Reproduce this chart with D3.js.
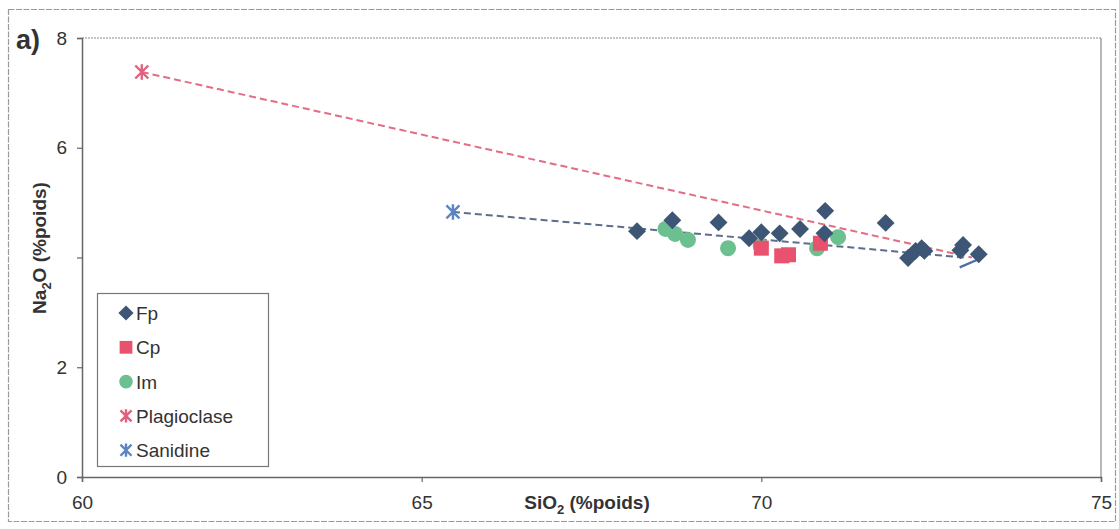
<!DOCTYPE html>
<html>
<head>
<meta charset="utf-8">
<script src="https://cdn.jsdelivr.net/npm/d3@7"></script>
<style>
  html, body { margin: 0; padding: 0; background: #fff; }
  svg { display: block; }
  text { font-family: "Liberation Sans", Arial, sans-serif; fill: #333; }
</style>
</head>
<body>
<svg id="chart" width="1119" height="529"></svg>
<script>
// Na2O vs SiO2 (% poids) for the different groups
const fpSiO2  = [68.17, 68.69, 69.37, 69.82, 70.00, 70.27, 70.57, 70.94, 70.93, 71.83, 72.16, 72.27, 72.36, 72.40, 72.93, 72.97, 73.20];
const fpNa2O  = [4.48, 4.68, 4.64, 4.35, 4.46, 4.44, 4.52, 4.85, 4.44, 4.63, 3.99, 4.12, 4.17, 4.12, 4.13, 4.23, 4.06];
const cpSiO2  = [70.00, 70.30, 70.40, 70.87];
const cpNa2O  = [4.17, 4.03, 4.05, 4.26];
const imSiO2  = [68.59, 68.73, 68.92, 69.51, 69.99, 70.82, 71.13];
const imNa2O  = [4.52, 4.43, 4.32, 4.17, 4.21, 4.17, 4.37];
const plagSiO2 = [60.88];
const plagNa2O = [7.38];
const sanSiO2  = [65.46];
const sanNa2O  = [4.83];
// mixing lines (feldspar -> evolved end-member)
const plagLineSiO2 = [60.88, 73.10];
const plagLineNa2O = [7.38, 4.00];
const sanLineSiO2  = [65.46, 72.98];
const sanLineNa2O  = [4.83, 4.00];
const sanTailSiO2  = [72.92, 73.18];
const sanTailNa2O  = [3.82, 3.96];

const xTicks = [60, 65, 70, 75];
const xTickLabels = ["60", "65", "70", "75"];
const yTicks = [0, 2, 4, 6, 8];
const yTickLabels = ["0", "2", "", "6", "8"];
const legendNames = ["Fp", "Cp", "Im", "Plagioclase", "Sanidine"];

const colors = {
  Fp: "#3e5675", Cp: "#e9526f", Im: "#6cbf8f",
  Plagioclase: "#e0607f", Sanidine: "#5b86c2",
  plagLine: "#e26d85", sanLine: "#5c6e8c", sanTail: "#4f6da6"
};

const svg = d3.select("#chart");
const x = d3.scaleLinear().domain([60, 75]).range([82, 1101]);
const y = d3.scaleLinear().domain([0, 8]).range([477, 38]);

// outer frame
svg.append("rect").attr("x", 8.5).attr("y", 9.5).attr("width", 1107).attr("height", 512)
  .attr("fill", "none").attr("stroke", "#9a9a9a").attr("stroke-width", 1.2)
  .attr("stroke-dasharray", "6,1.5");

// plot area frame (top and right)
svg.append("line").attr("x1", x(60)).attr("x2", x(75)).attr("y1", y(8)).attr("y2", y(8))
  .attr("stroke", "#8a8a8a").attr("stroke-width", 1.2).attr("stroke-dasharray", "2,1");
svg.append("line").attr("x1", x(75)).attr("x2", x(75)).attr("y1", y(8)).attr("y2", y(0))
  .attr("stroke", "#8a8a8a").attr("stroke-width", 1.2);

// axes
const xAxis = svg.append("g").attr("transform", `translate(0,${y(0)})`)
  .call(d3.axisBottom(x).tickValues(xTicks).tickSize(5).tickPadding(14)
    .tickFormat((d, i) => xTickLabels[i]));
const yAxis = svg.append("g").attr("transform", `translate(${x(60)},0)`)
  .call(d3.axisLeft(y).tickValues(yTicks).tickSize(5).tickPadding(10)
    .tickFormat((d, i) => yTickLabels[i]));
[xAxis, yAxis].forEach(g => {
  g.select(".domain").attr("stroke", "#666").attr("stroke-width", 1.5);
  g.selectAll(".tick line").attr("stroke", "#666").attr("stroke-width", 1.2);
  g.selectAll(".tick text").attr("font-size", 19).attr("fill", "#333")
    .attr("font-family", "'Liberation Sans', Arial, sans-serif");
});

// axis titles
const xt = svg.append("text").attr("x", 587).attr("y", 509).attr("text-anchor", "middle")
  .attr("font-size", 19).attr("font-weight", "bold");
xt.append("tspan").text("SiO");
xt.append("tspan").attr("font-size", 13).attr("dy", 5).text("2");
xt.append("tspan").attr("dy", -5).text(" (%poids)");

const yt = svg.append("text").attr("transform", "translate(46,248) rotate(-90)")
  .attr("text-anchor", "middle").attr("font-size", 19).attr("font-weight", "bold");
yt.append("tspan").text("Na");
yt.append("tspan").attr("font-size", 13).attr("dy", 5).text("2");
yt.append("tspan").attr("dy", -5).text("O (%poids)");

svg.append("text").attr("x", 16).attr("y", 49).attr("font-size", 27).attr("font-weight", "bold")
  .attr("fill", "#2a2a2a").text("a)");

// mixing lines
const line = d3.line().x(d => x(d[0])).y(d => y(d[1]));
svg.append("path").datum(d3.zip(plagLineSiO2, plagLineNa2O)).attr("d", line)
  .attr("fill", "none").attr("stroke", colors.plagLine).attr("stroke-width", 2).attr("stroke-dasharray", "7,4");
svg.append("path").datum(d3.zip(sanLineSiO2, sanLineNa2O)).attr("d", line)
  .attr("fill", "none").attr("stroke", colors.sanLine).attr("stroke-width", 2).attr("stroke-dasharray", "7,4");
svg.append("path").datum(d3.zip(sanTailSiO2, sanTailNa2O)).attr("d", line)
  .attr("fill", "none").attr("stroke", colors.sanTail).attr("stroke-width", 2.2);

// marker shapes
function starPath(r) {
  return `M${-r},${-r}L${r},${r}M${-r},${r}L${r},${-r}M0,${-r * 1.2}L0,${r * 1.2}`;
}
function drawMarker(g, name, cx, cy, scale) {
  const s = scale || 1;
  if (name === "Fp") {
    // square turned 45 degrees
    g.append("path").attr("d", d3.symbol(d3.symbolSquare, 160 * s * s)())
      .attr("transform", `translate(${cx},${cy}) rotate(45)`).attr("fill", colors.Fp);
  } else if (name === "Cp") {
    g.append("rect").attr("x", cx - 7.5 * s).attr("y", cy - 7.5 * s)
      .attr("width", 15 * s).attr("height", 15 * s).attr("fill", colors.Cp);
  } else if (name === "Im") {
    g.append("circle").attr("cx", cx).attr("cy", cy).attr("r", 8 * s).attr("fill", colors.Im);
  } else {
    g.append("path").attr("d", starPath(6.5 * s)).attr("transform", `translate(${cx},${cy})`)
      .attr("stroke", colors[name]).attr("stroke-width", 2.4).attr("fill", "none");
  }
}

const pts = svg.append("g");
d3.zip(imSiO2, imNa2O).forEach(d => drawMarker(pts, "Im", x(d[0]), y(d[1])));
d3.zip(cpSiO2, cpNa2O).forEach(d => drawMarker(pts, "Cp", x(d[0]), y(d[1])));
d3.zip(fpSiO2, fpNa2O).forEach(d => drawMarker(pts, "Fp", x(d[0]), y(d[1])));
d3.zip(plagSiO2, plagNa2O).forEach(d => drawMarker(pts, "Plagioclase", x(d[0]), y(d[1])));
d3.zip(sanSiO2, sanNa2O).forEach(d => drawMarker(pts, "Sanidine", x(d[0]), y(d[1])));

// legend
const lg = svg.append("g");
lg.append("rect").attr("x", 97.5).attr("y", 293.5).attr("width", 171).attr("height", 173)
  .attr("fill", "#fff").attr("stroke", "#777").attr("stroke-width", 1.2);
legendNames.forEach((n, i) => {
  const cy = 313 + i * 34.3;
  drawMarker(lg, n, 126, cy, 0.85);
  lg.append("text").attr("x", 136).attr("y", cy + 7).attr("font-size", 19).attr("fill", "#333").text(n);
});
</script>
</body>
</html>
